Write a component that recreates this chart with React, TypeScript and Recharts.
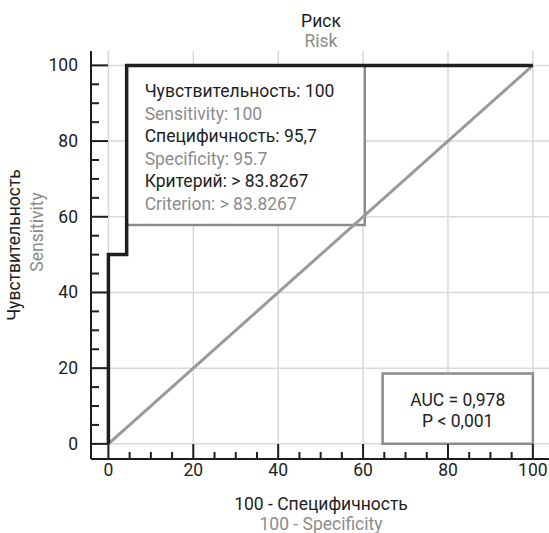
import { LineChart, Line, XAxis, YAxis, CartesianGrid, ReferenceArea } from "recharts";

const rocX = [0, 0, 4.3, 4.3, 100];
const rocY = [0, 50, 50, 100, 100];
const diagX = [0, 100];
const diagY = [0, 100];
const majorTicks = [0, 20, 40, 60, 80, 100];
const allTicks = [0, 5, 10, 15, 20, 25, 30, 35, 40, 45, 50, 55, 60, 65, 70, 75, 80, 85, 90, 95, 100];

const infoBox = { x1: 4.3, x2: 60.4, y1: 57.8, y2: 100 };
const infoLines = [
  "Чувствительность: 100",
  "Sensitivity: 100",
  "Специфичность: 95,7",
  "Specificity: 95.7",
  "Критерий: > 83.8267",
  "Criterion: > 83.8267",
];
const aucBox = { x1: 64.6, x2: 100, y1: 0, y2: 18.6 };
const aucLines = ["AUC = 0,978", "P < 0,001"];

const titleLines = ["Риск", "Risk"];
const xTitleLines = ["100 - Специфичность", "100 - Specificity"];
const yTitleLines = ["Чувствительность", "Sensitivity"];

const X_DOMAIN = [-4.1, 103.8];
const Y_DOMAIN = [-4, 103.8];

const FONT = "Roboto, 'Liberation Sans', Arial, sans-serif";
const FS = 17.5;
const DARK = "#1e1e1e";
const GREY = "#8c8c8c";

const rocData = rocX.map((x, i) => ({ x, y: rocY[i] }));
const diagData = diagX.map((x, i) => ({ x, y: diagY[i] }));

const isMajor = (v: number) => v % 20 === 0;

// ticks point inwards: mark drawn from the axis line into the plot
const XTick = (props: any) => {
  const { x, y, payload } = props;
  const major = isMajor(payload.value);
  const len = major ? 15 : 7;
  return (
    <g>
      <rect x={x - 1} y={y - len} width={2} height={len} fill={DARK} />
      {major && (
        <text x={x} y={y + 17} textAnchor="middle" fontSize={FS} fontFamily={FONT} fill={DARK}>
          {payload.value}
        </text>
      )}
    </g>
  );
};

const YTick = (props: any) => {
  const { x, y, payload } = props;
  const major = isMajor(payload.value);
  const len = major ? 17 : 8;
  return (
    <g>
      <rect x={x} y={y - 1} width={len} height={2} fill={DARK} />
      {major && (
        <text x={x - 13} y={y + 6} textAnchor="end" fontSize={FS} fontFamily={FONT} fill={DARK}>
          {payload.value}
        </text>
      )}
    </g>
  );
};

const XTitle = (props: any) => {
  const { x, y, width } = props.viewBox;
  const cx = x + width / 2 + 1;
  return (
    <g fontFamily={FONT} fontSize={FS} textAnchor="middle">
      <text x={cx} y={y + 51} fill={DARK}>{xTitleLines[0]}</text>
      <text x={cx} y={y + 71} fill={GREY}>{xTitleLines[1]}</text>
      {/* chart title sits above the plot, centred the same way */}
      <text x={cx} y={27} fill={DARK}>{titleLines[0]}</text>
      <text x={cx} y={47} fill={GREY}>{titleLines[1]}</text>
    </g>
  );
};

const YTitle = (props: any) => {
  const { y, height } = props.viewBox;
  const cy = y + height / 2;
  return (
    <g fontFamily={FONT} fontSize={FS} textAnchor="middle">
      <text transform={`translate(20,${cy - 10}) rotate(-90)`} fill={DARK}>{yTitleLines[0]}</text>
      <text transform={`translate(43,${cy - 23}) rotate(-90)`} fill={GREY}>{yTitleLines[1]}</text>
    </g>
  );
};

const InfoLabel = (props: any) => {
  const { x, y } = props.viewBox;
  return (
    <g>
      {infoLines.map((t, i) => (
        <text key={i} x={x + 18} y={y + 32 + i * 22.5} fontSize={FS} fontFamily={FONT} fill={i % 2 ? GREY : DARK}>
          {t}
        </text>
      ))}
    </g>
  );
};

const AucLabel = (props: any) => {
  const { x, y, width } = props.viewBox;
  return (
    <g>
      {aucLines.map((t, i) => (
        <text key={i} x={x + width / 2} y={y + 33 + i * 21} textAnchor="middle" fontSize={FS} fontFamily={FONT} fill={DARK}>
          {t}
        </text>
      ))}
    </g>
  );
};

export default function App() {
  return (
    <div style={{ position: "absolute", left: 0, top: 0, width: 549, height: 533 }}>
      <LineChart width={549} height={533} margin={{ top: 51, right: 0, bottom: 0, left: 0 }}>
        <CartesianGrid
          horizontalValues={majorTicks}
          verticalValues={majorTicks}
          stroke="#d9d9d9"
          strokeWidth={1.5}
        />
        <XAxis
          type="number"
          dataKey="x"
          domain={X_DOMAIN}
          allowDataOverflow
          ticks={allTicks}
          interval={0}
          tickSize={0}
          tickMargin={0}
          tickLine={false}
          tick={<XTick />}
          height={74}
          axisLine={{ stroke: DARK, strokeWidth: 2 }}
          label={<XTitle />}
        />
        <YAxis
          type="number"
          dataKey="y"
          domain={Y_DOMAIN}
          allowDataOverflow
          ticks={allTicks}
          interval={0}
          tickSize={0}
          tickMargin={0}
          tickLine={false}
          tick={<YTick />}
          width={91}
          axisLine={{ stroke: DARK, strokeWidth: 2 }}
          label={<YTitle />}
        />
        <ReferenceArea
          {...infoBox}
          fill="#ffffff"
          fillOpacity={1}
          stroke={GREY}
          strokeWidth={2.5}
          label={<InfoLabel />}
        />
        <ReferenceArea
          {...aucBox}
          fill="#ffffff"
          fillOpacity={1}
          stroke={GREY}
          strokeWidth={2.5}
          label={<AucLabel />}
        />
        <Line
          data={diagData}
          dataKey="y"
          type="linear"
          stroke="#9a9a9a"
          strokeWidth={3}
          dot={false}
          isAnimationActive={false}
        />
        <Line
          data={rocData}
          dataKey="y"
          type="linear"
          stroke={DARK}
          strokeWidth={3.5}
          strokeLinejoin="miter"
          dot={false}
          isAnimationActive={false}
        />
      </LineChart>
    </div>
  );
}
